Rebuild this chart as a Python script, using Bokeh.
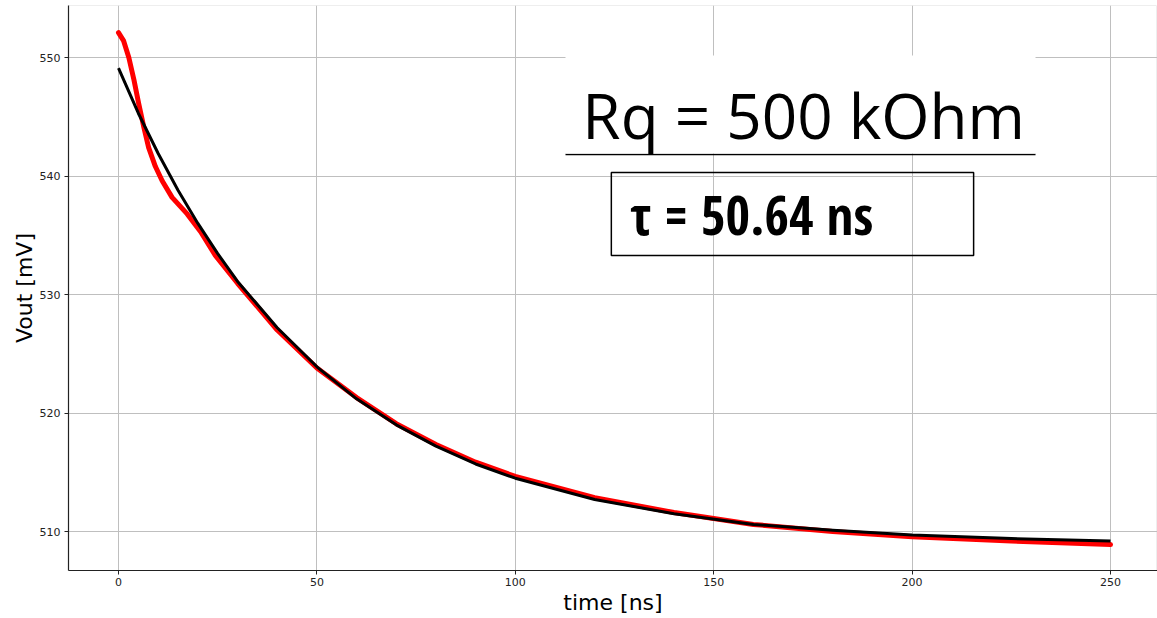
from bokeh.plotting import figure
from bokeh.models import Label, BoxAnnotation, Range1d, FixedTicker
from bokeh.embed import file_html
from bokeh.resources import INLINE

t_data = [0, 1.3, 2.6, 3.9, 5.1, 6.4, 7.6, 9.3, 11.0, 13.5, 17.3, 20.7, 24.4, 30, 40, 50,
          60, 70, 80, 90, 100, 120, 140, 160, 180, 200, 225, 250]
v_data = [552.1, 551.4, 550.0, 548.1, 546.1, 544.1, 542.4, 540.8, 539.6, 538.2, 536.8, 535.3,
          533.3, 530.95, 527.0, 523.8, 521.3, 519.1, 517.35, 515.85, 514.65, 512.85, 511.6,
          510.6, 510.0, 509.55, 509.2, 508.9]

# exponential fit (black)
t_fit = [0, 5, 10, 15, 20, 25, 30, 40, 50, 60, 70, 80, 90, 100, 120, 140, 160, 180, 200, 225, 250]
v_fit = [549.1, 545.3, 541.9, 538.8, 536.0, 533.45, 531.1, 527.2, 523.9, 521.2, 519.0, 517.2,
         515.7, 514.5, 512.7, 511.5, 510.6, 510.1, 509.7, 509.4, 509.2]

x_ticks = [0, 50, 100, 150, 200, 250]
y_ticks = [510, 520, 530, 540, 550]

title_text = "Rq = 500 kOhm"
tau_text = "τ = 50.64 ns"

p = figure(width=1157, height=618, output_backend="svg", toolbar_location=None,
           x_range=Range1d(-12.6, 261.84), y_range=Range1d(506.71, 554.39),
           min_border_left=68, min_border_right=0, min_border_top=5, min_border_bottom=48)
p.outline_line_color = "#eeeeee"
p.background_fill_color = "white"
p.border_fill_color = "white"

for ax in (p.xaxis[0], p.yaxis[0]):
    ax.axis_line_color = "#222222"
    ax.axis_line_width = 1.2
    ax.major_tick_line_color = "#222222"
    ax.major_tick_out = 4
    ax.major_tick_in = 0
    ax.minor_tick_line_color = None
    ax.major_label_text_font = "DejaVu Sans"
    ax.major_label_text_font_size = "11px"
    ax.major_label_text_color = "#222222"
    ax.axis_label_text_font = "DejaVu Sans"
    ax.axis_label_text_font_size = "22px"
    ax.axis_label_text_font_style = "normal"
    ax.axis_label_text_color = "black"

p.xaxis.ticker = FixedTicker(ticks=x_ticks)
p.yaxis.ticker = FixedTicker(ticks=y_ticks)
p.xaxis.axis_label = "time [ns]"
p.yaxis.axis_label = "Vout [mV]"
p.xaxis.axis_label_standoff = 1
p.yaxis.axis_label_standoff = 0
p.xaxis.major_label_standoff = 3
p.yaxis.major_label_standoff = 4

p.grid.grid_line_color = "#bfbfbf"
p.grid.grid_line_width = 1

p.line(t_data, v_data, line_color="red", line_width=5, line_cap="round", line_join="round")
p.line(t_fit, v_fit, line_color="black", line_width=3, line_join="round")

# white panel behind the Rq title
p.add_layout(BoxAnnotation(left=112.65, right=231.1, top=550.17, bottom=541.9,
                           fill_color="white", fill_alpha=1.0, line_color=None))
p.segment(x0=[112.65], y0=[541.81], x1=[231.1], y1=[541.81], line_color="black", line_width=1.5)
p.add_layout(Label(x=116.9, y=545.19, text=title_text, text_font="Open Sans",
                   text_font_size="62px", text_color="black", text_baseline="alphabetic"))

# tau box
p.add_layout(BoxAnnotation(left=124.2, right=215.5, top=540.30, bottom=533.29,
                           fill_alpha=0.0, line_color="black", line_alpha=1.0, line_width=1.5))
p.add_layout(Label(x=128.9, y=536.75, text=tau_text,
                   text_font="Open Sans Condensed",
                   text_font_size="53px", text_font_style="bold", text_color="black",
                   text_baseline="alphabetic"))

open("out.html", "w").write(file_html(p, INLINE))
